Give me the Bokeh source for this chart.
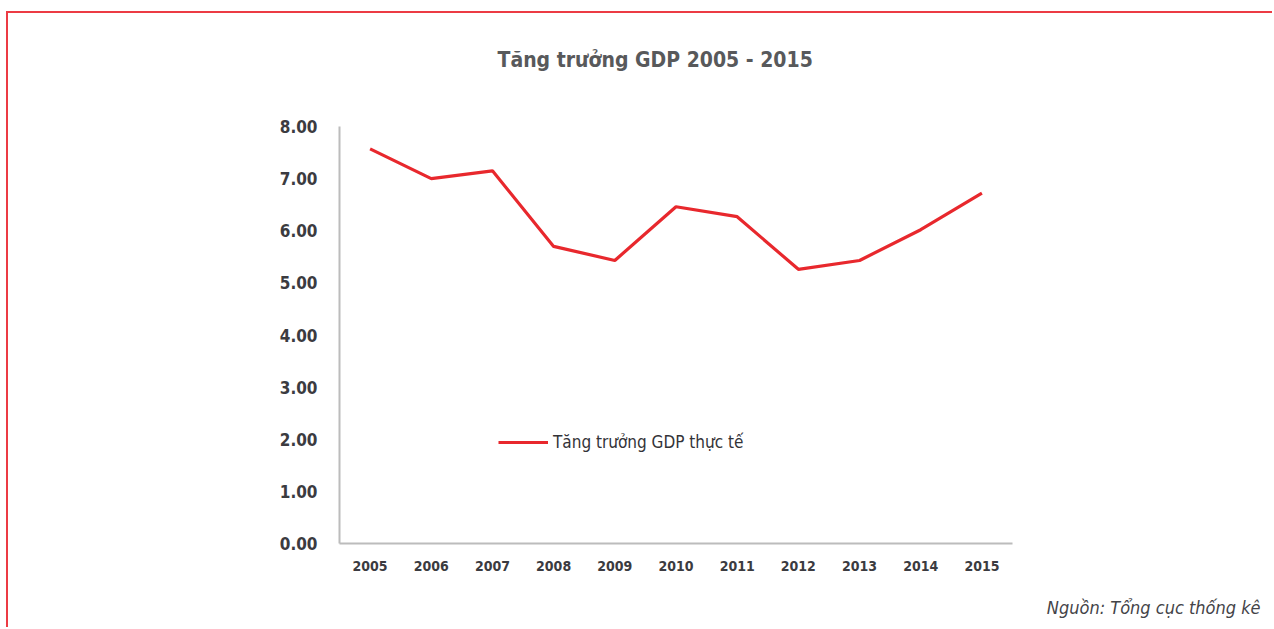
from bokeh.plotting import figure
from bokeh.models import (FactorRange, Range1d, FixedTicker, NumeralTickFormatter,
                          Title, Legend, LegendItem)
from bokeh.embed import file_html
from bokeh.resources import INLINE

# ---- data ----
years = ["2005", "2006", "2007", "2008", "2009", "2010",
         "2011", "2012", "2013", "2014", "2015"]
gdp_growth = [7.57, 7.00, 7.15, 5.70, 5.43, 6.46, 6.27, 5.26, 5.43, 6.02, 6.72]
y_ticks = [0, 1, 2, 3, 4, 5, 6, 7, 8]
title_text = "Tăng trưởng GDP 2005 - 2015"
series_name = "Tăng trưởng GDP thực tế"
source_text = "Nguồn: Tổng cục thống kê"

FONT = "'DejaVu Sans Condensed', 'Liberation Sans Narrow', sans-serif"
RED = "#e8282d"
BORDER_RED = "#ec3b44"

p = figure(width=1266, height=616, output_backend="svg", toolbar_location=None,
           x_range=FactorRange(*years, range_padding=0),
           y_range=Range1d(0, 8),
           min_border_left=331, min_border_right=262,
           min_border_top=113, min_border_bottom=86)
p.styles = {"border-top": f"2px solid {BORDER_RED}",
            "border-left": f"2px solid {BORDER_RED}",
            "margin-top": "11px", "margin-left": "6px"}
p.outline_line_color = None
p.background_fill_color = "white"
p.border_fill_color = "white"
p.xgrid.grid_line_color = None
p.ygrid.grid_line_color = None

line = p.line(years, gdp_growth, line_color=RED, line_width=3.2)

# axes
for ax in (p.xaxis[0], p.yaxis[0]):
    ax.axis_line_color = "#bcbcbc"
    ax.axis_line_width = 2
    ax.major_tick_line_color = None
    ax.minor_tick_line_color = None
    ax.major_label_text_font = FONT
    ax.major_label_text_font_style = "bold"
    ax.major_label_text_color = "#3b3b40"

p.yaxis.ticker = FixedTicker(ticks=y_ticks)
p.yaxis.formatter = NumeralTickFormatter(format="0.00")
p.yaxis.major_label_text_font_size = "17px"
p.yaxis.major_label_standoff = 16
p.xaxis.major_label_text_font_size = "14px"
p.xaxis.major_label_standoff = 11

# legend
legend = Legend(items=[LegendItem(label=series_name, renderers=[line])],
                location=(159, 91), orientation="vertical",
                glyph_width=50, glyph_height=20, label_standoff=5,
                padding=0, margin=0, spacing=0,
                border_line_color=None, background_fill_alpha=0,
                label_text_font=FONT, label_text_font_size="17px",
                label_text_color="#333338")
p.add_layout(legend, "center")

# title
p.add_layout(Title(text=title_text, align="left", offset=158, vertical_align="top",
                   standoff=10, padding=dict(left=0, right=0, top=0, bottom=48),
                   text_font=FONT, text_font_style="bold",
                   text_font_size="21px", text_color="#58595b"), "above")
# source
p.add_layout(Title(text=source_text, align="right", offset=-248, vertical_align="bottom",
                   standoff=0, padding=dict(left=0, right=0, top=21, bottom=0),
                   text_font=FONT, text_font_style="italic",
                   text_font_size="18px", text_color="#444448"), "below")

open("out.html", "w").write(file_html(p, INLINE))
